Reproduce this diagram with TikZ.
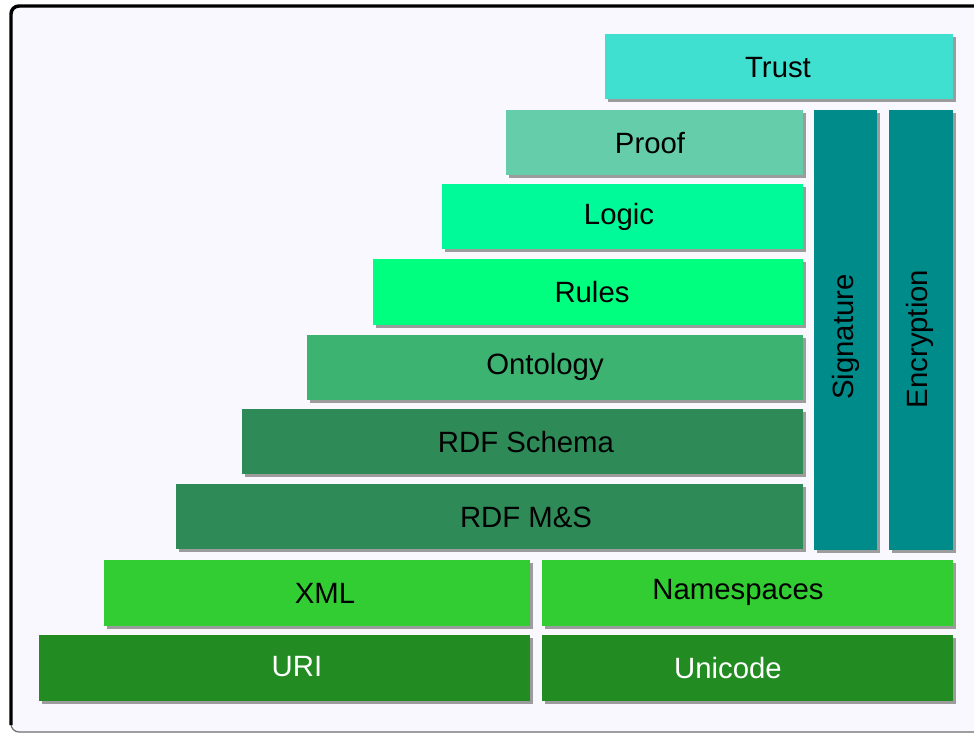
\documentclass[tikz,border=0pt]{standalone}
\usepackage{fontspec}
\setmainfont{Liberation Sans}
\usetikzlibrary{fit,shadows}

\definecolor{panelbg}{HTML}{F8F8FE}
\definecolor{cTrust}{HTML}{40E0D0}
\definecolor{cProof}{HTML}{66CDAA}
\definecolor{cLogic}{HTML}{00FA9A}
\definecolor{cRules}{HTML}{00FF7F}
\definecolor{cOnto}{HTML}{3CB371}
\definecolor{cRdf}{HTML}{2E8B57}
\definecolor{cSec}{HTML}{008B8B}
\definecolor{cXml}{HTML}{32CD32}
\definecolor{cBase}{HTML}{228B22}
\definecolor{shadowgray}{HTML}{9C9C9C}

\tikzset{
  block/.style={inner sep=0pt, outer sep=0pt, draw=none,
    drop shadow={shadow xshift=2.25pt, shadow yshift=-2.25pt,
                 fill=shadowgray, opacity=1}},
  lbl/.style={inner sep=0pt, font=\fontsize{22}{26}\selectfont, text=black},
  wlbl/.style={lbl, text=white},
}

\begin{document}
\begin{tikzpicture}[x=0.75pt, y=-0.75pt]
  \useasboundingbox (0,0) rectangle (974,734);
  \clip (0,0) rectangle (974,734);

  % panel
  \fill[white] (0,0) rectangle (974,734);
  \fill[panelbg, rounded corners=6] (11,6) rectangle (990,732);
  \draw[shadowgray!70!black, line width=0.9pt, rounded corners=6] (11,600) -- (11,732) -- (990,732);
  \draw[black, line width=2.6pt, rounded corners=6] (11,725) -- (11,6) -- (990,6);

  % layers
  \node[block, fill=cTrust, fit={(605,34) (953,99)}] (trust) {};
  \node[block, fill=cProof, fit={(506,110) (803,175)}] (proof) {};
  \node[block, fill=cLogic, fit={(442,184) (803,249)}] (logic) {};
  \node[block, fill=cRules, fit={(373,259) (803,325)}] (rules) {};
  \node[block, fill=cOnto, fit={(307,335) (803,400)}] (onto) {};
  \node[block, fill=cRdf, fit={(242,409) (803,474)}] (rdfs) {};
  \node[block, fill=cRdf, fit={(176,484) (803,549)}] (rdfms) {};
  \node[block, fill=cSec, fit={(814,110) (877,550)}] (sig) {};
  \node[block, fill=cSec, fit={(889,110) (953,550)}] (enc) {};
  \node[block, fill=cXml, fit={(104,560) (530,626)}] (xml) {};
  \node[block, fill=cXml, fit={(542,560) (953,626)}] (ns) {};
  \node[block, fill=cBase, fit={(39,635) (530,701)}] (uri) {};
  \node[block, fill=cBase, fit={(542,635) (953,701)}] (uni) {};

  % labels
  \node[lbl] (trust-t) at (778,68) {Trust};
  \node[lbl] (proof-t) at (650,143) {Proof};
  \node[lbl] (logic-t) at (619,217) {Logic};
  \node[lbl] (rules-t) at (592,292) {Rules};
  \node[lbl] (onto-t) at (545,367) {Ontology};
  \node[lbl] (rdfs-t) at (526,442) {RDF Schema};
  \node[lbl] (rdfms-t) at (526,517) {RDF M\&S};
  \node[lbl, rotate=90] (sig-t) at (846,337) {Signature};
  \node[lbl, rotate=90] (enc-t) at (920,339) {Encryption};
  \node[lbl] (xml-t) at (325,593) {XML};
  \node[lbl] (ns-t) at (738,592) {Namespaces};
  \node[wlbl] (uri-t) at (297,667) {URI};
  \node[wlbl] (uni-t) at (728,668) {Unicode};
\end{tikzpicture}
\end{document}
